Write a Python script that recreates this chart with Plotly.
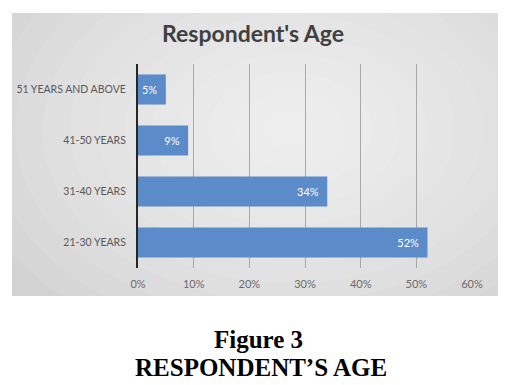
import plotly.graph_objects as go

categories = ["21-30 YEARS", "31-40 YEARS", "41-50 YEARS", "51 YEARS AND ABOVE"]
values = [0.52, 0.34, 0.09, 0.05]
labels = ["52%", "34%", "9%", "5%"]
tick_vals = [0, 0.1, 0.2, 0.3, 0.4, 0.5, 0.6]
tick_text = ["0%", "10%", "20%", "30%", "40%", "50%", "60%"]

W, H = 515, 385
L, R, T, B = 138, 43, 64, 117
pw, ph = W - L - R, H - T - B

def px(x):
    return (x - L) / pw

def py(y):
    return (H - B - y) / ph

fig = go.Figure(go.Bar(
    x=values, y=categories, orientation="h",
    marker=dict(color="#5B8BC9", line=dict(width=0)),
    width=0.59,
    text=labels, texttemplate="%{text}\u00a0\u00a0",
    textposition="inside", insidetextanchor="end",
    textfont=dict(color="white", size=11, family="Lato"),
    hoverinfo="skip",
))

shapes = [dict(type="rect", xref="paper", yref="paper",
               x0=px(12), x1=px(498), y0=py(296), y1=py(13),
               fillcolor="#d2d2d2", line=dict(width=0), layer="below")]
# radial-ish light centre
cx, cy = 290, 130
n = 12
for i in range(n):
    f = 1 - i / n
    rx, ry = 330 * f, 230 * f
    shapes.append(dict(type="circle", xref="paper", yref="paper",
                       x0=px(cx - rx), x1=px(cx + rx), y0=py(cy + ry), y1=py(cy - ry),
                       fillcolor="white", opacity=0.09, line=dict(width=0), layer="below"))
# white outside panel (cover circles overflow)
shapes += [
    dict(type="rect", xref="paper", yref="paper", x0=px(-5), x1=px(12), y0=py(H + 5), y1=py(-5),
         fillcolor="white", line=dict(width=0), layer="below"),
    dict(type="rect", xref="paper", yref="paper", x0=px(498), x1=px(W + 5), y0=py(H + 5), y1=py(-5),
         fillcolor="white", line=dict(width=0), layer="below"),
    dict(type="rect", xref="paper", yref="paper", x0=px(-5), x1=px(W + 5), y0=py(13), y1=py(-5),
         fillcolor="white", line=dict(width=0), layer="below"),
    dict(type="rect", xref="paper", yref="paper", x0=px(-5), x1=px(W + 5), y0=py(H + 5), y1=py(296),
         fillcolor="white", line=dict(width=0), layer="below"),
]

annotations = [
    dict(text="<b>Respondent's Age</b>", xref="paper", yref="paper", x=px(253), y=py(33),
         showarrow=False, font=dict(family="Lato", size=23, color="#404040"),
         xanchor="center", yanchor="middle"),
    dict(text="<b>Figure 3</b>", xref="paper", yref="paper", x=px(258), y=py(339),
         showarrow=False, font=dict(family="Liberation Serif", size=25, color="black"),
         xanchor="center", yanchor="middle"),
    dict(text="<b>RESPONDENT’S AGE</b>", xref="paper", yref="paper", x=px(261), y=py(367),
         showarrow=False, font=dict(family="Liberation Serif", size=25, color="black"),
         xanchor="center", yanchor="middle"),
]

fig.update_layout(
    width=W, height=H,
    margin=dict(l=L, r=R, t=T, b=B, autoexpand=False),
    paper_bgcolor="white", plot_bgcolor="rgba(0,0,0,0)",
    shapes=shapes, annotations=annotations,
    showlegend=False,
    xaxis=dict(range=[0, 0.6], tickvals=tick_vals, ticktext=tick_text,
               showgrid=True, gridcolor="#a8a8a8", gridwidth=1, zeroline=False,
               tickfont=dict(family="Lato", size=11, color="#6a6a6a"),
               ticklabelstandoff=8,
               showline=False, ticks="", fixedrange=True, automargin=False),
    yaxis=dict(showline=True, linecolor="#262626", linewidth=2, ticks="",
               showgrid=False, tickfont=dict(family="Lato", size=10.5, color="#595959"),
               ticklabelstandoff=8, fixedrange=True, automargin=False),
)

fig.write_html("out.html", config={"displayModeBar": False},
               post_script="document.body.style.margin='0';document.body.style.overflow='hidden';")
